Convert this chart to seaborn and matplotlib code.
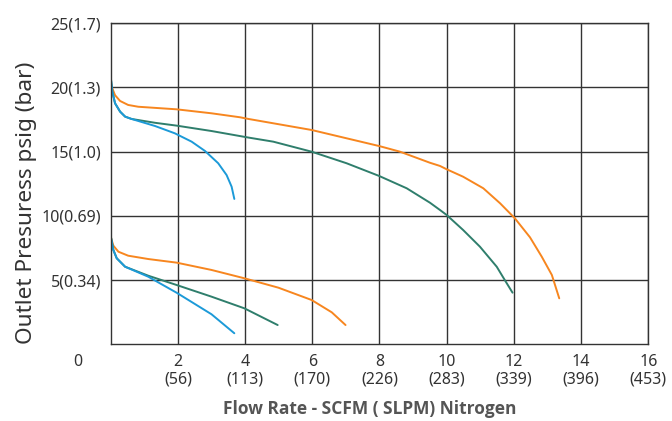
import pandas as pd
import seaborn as sns
import matplotlib.pyplot as plt

# upper curves (set ~20 psig)
up_orange_x = [0.01, 0.03, 0.13, 0.28, 0.52, 0.82, 1.96, 3.0, 3.85, 4.1, 5.98, 7.99, 8.61, 9.5, 9.8,
               10.0, 10.49, 11.09, 11.59, 12.03, 12.48, 12.83, 13.13, 13.35]
up_orange_y = [20.3, 20.06, 19.4, 18.95, 18.64, 18.5, 18.3, 17.99, 17.68, 17.55, 16.69, 15.44, 15.0, 14.14, 13.89,
               13.63, 13.05, 12.15, 10.98, 9.81, 8.33, 6.82, 5.4, 3.58]
up_green_x = [0.01, 0.05, 0.13, 0.28, 0.43, 0.62, 1.32, 1.96, 3.0, 4.1, 4.84, 5.98, 7.02, 7.99,
              8.81, 9.5, 9.8, 10.0, 10.49, 10.99, 11.49, 11.73, 11.96]
up_green_y = [20.6, 19.67, 18.77, 18.12, 17.73, 17.55, 17.25, 17.03, 16.61, 16.1, 15.78, 15.0, 14.1, 13.11,
              12.15, 11.03, 10.46, 10.07, 8.9, 7.6, 6.04, 5.0, 4.02]
up_blue_x = [0.01, 0.05, 0.13, 0.28, 0.43, 0.62, 1.32, 1.91, 2.41, 2.81, 3.20, 3.45, 3.6, 3.68]
up_blue_y = [20.6, 19.67, 18.77, 18.12, 17.73, 17.55, 17.0, 16.43, 15.78, 15.05, 14.1, 13.18, 12.27, 11.32]

# lower curves (set ~8 psig)
lo_orange_x = [0.01, 0.08, 0.23, 0.52, 1.12, 1.96, 3.0, 3.98, 4.99, 5.98, 6.58, 6.99]
lo_orange_y = [8.3, 7.68, 7.21, 6.9, 6.64, 6.36, 5.79, 5.14, 4.41, 3.45, 2.49, 1.5]
lo_green_x = [0.01, 0.08, 0.18, 0.43, 1.12, 1.96, 3.0, 3.98, 4.97]
lo_green_y = [8.3, 7.34, 6.7, 6.04, 5.34, 4.62, 3.71, 2.8, 1.5]
lo_blue_x = [0.01, 0.08, 0.18, 0.43, 1.12, 1.96, 3.0, 3.68]
lo_blue_y = [8.3, 7.34, 6.7, 6.04, 5.26, 4.02, 2.34, 0.86]

x_ticks = [2, 4, 6, 8, 10, 12, 14, 16]
x_tick_labels = ["2\n(56)", "4\n(113)", "6\n(170)", "8\n(226)", "10\n(283)",
                 "12\n(339)", "14\n(396)", "16\n(453)"]
y_ticks = [5, 10, 15, 20, 25]
y_tick_labels = ["5(0.34)", "10(0.69)", "15(1.0)", "20(1.3)", "25(1.7)"]

orange = "#F7861F"
green = "#2F7E6C"
blue = "#1C9AD8"

sns.set_theme(style="white")
plt.rcParams['font.family'] = ['Noto Sans', 'DejaVu Sans']

fig = plt.figure(figsize=(6.72, 4.21), dpi=100)
ax = fig.add_axes([0.1647, 0.1822, 0.80, 0.7625])

curves = [
    (up_orange_x, up_orange_y, orange),
    (up_green_x, up_green_y, green),
    (up_blue_x, up_blue_y, blue),
    (lo_orange_x, lo_orange_y, orange),
    (lo_green_x, lo_green_y, green),
    (lo_blue_x, lo_blue_y, blue),
]
for xs, ys, c in curves:
    df = pd.DataFrame({"x": xs, "y": ys})
    sns.lineplot(data=df, x="x", y="y", color=c, lw=1.4, sort=False, ax=ax)

ax.set_xlim(0, 16)
ax.set_ylim(0, 25)
ax.set_xticks(x_ticks)
ax.set_xticklabels(x_tick_labels, fontsize=11.5, color="#333333", linespacing=1.15)
ax.set_yticks(y_ticks)
ax.set_yticklabels(y_tick_labels, fontsize=11.5, color="#333333")
ax.tick_params(axis="x", length=0, pad=7)
ax.tick_params(axis="y", length=0, pad=7)
ax.grid(True, color="#333333", lw=1.0)
for s in ax.spines.values():
    s.set_color("#333333")
    s.set_linewidth(1.0)

ax.annotate("0", xy=(0, 0), xytext=(-23.5, -12.7), textcoords="offset points",
            ha="center", va="center", fontsize=11.5, color="#333333")

ax.set_xlabel("Flow Rate - SCFM ( SLPM) Nitrogen", fontsize=12.5, fontweight="bold",
              color="#555555", family=["Open Sans", "DejaVu Sans"])
ax.xaxis.set_label_coords(0.482, -0.172)
ax.set_ylabel("Outlet Presuress psig (bar)", fontsize=16.3, color="#333333")
ax.yaxis.set_label_coords(-0.137, 0.44)

fig.savefig("out.png", dpi=100)
